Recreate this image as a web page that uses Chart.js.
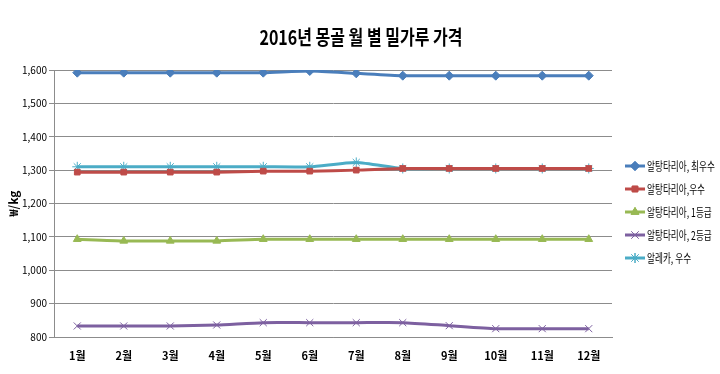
<!DOCTYPE html>
<html>
<head>
<meta charset="utf-8">
<script src="https://cdn.jsdelivr.net/npm/chart.js@4/dist/chart.umd.min.js"></script>
<style>
  html, body { margin: 0; padding: 0; background: #fff; }
  #wrap { width: 720px; height: 374px; }
</style>
</head>
<body>
<div id="wrap"><canvas id="flourChart" width="720" height="374"></canvas></div>
<script>
// Monthly flour prices, Mongolia 2016 (₩/kg)
const months = ['1월', '2월', '3월', '4월', '5월', '6월', '7월', '8월', '9월', '10월', '11월', '12월'];
const altanBest = [1592, 1592, 1592, 1592, 1592, 1597, 1590, 1583, 1583, 1583, 1583, 1583];
const altanGood = [1294, 1294, 1294, 1294, 1297, 1297, 1300, 1305, 1305, 1305, 1305, 1305];
const altanFirst = [1093, 1088, 1088, 1088, 1093, 1093, 1093, 1093, 1093, 1093, 1093, 1093];
const altanSecond = [833, 833, 833, 836, 843, 843, 843, 843, 834, 825, 825, 825];
const alekaGood = [1310, 1310, 1310, 1310, 1310, 1310, 1323, 1305, 1305, 1305, 1305, 1305];
const yTicks = { min: 800, max: 1600, step: 100 };

const font = '"Noto Sans CJK KR", "DejaVu Sans", sans-serif';

function series(label, data, color, pointStyle, radius) {
  return {
    label: label,
    data: data,
    borderColor: color,
    backgroundColor: color,
    borderWidth: 3,
    pointStyle: pointStyle,
    pointRadius: radius,
    pointBorderWidth: 1,
    pointHoverRadius: radius,
    tension: 0.2,
  };
}

// Title and legend are drawn by hand so they look like the Excel original
const decorations = {
  id: 'decorations',
  afterDraw(chart) {
    const ctx = chart.ctx;
    // title, slightly condensed
    ctx.save();
    ctx.translate(361, 37);
    ctx.scale(0.8, 1);
    ctx.font = 'bold 20px ' + font;
    ctx.fillStyle = '#000';
    ctx.textAlign = 'center';
    ctx.textBaseline = 'middle';
    ctx.fillText('2016년 몽골 월 별 밀가루 가격', 0, 0);
    ctx.restore();

    // legend on the right
    const x0 = chart.chartArea.right + 13;
    let y = 166;
    chart.data.datasets.forEach((ds) => {
      const hollow = ds.pointStyle === 'crossRot' || ds.pointStyle === 'star';
      ctx.save();
      ctx.strokeStyle = ds.borderColor;
      ctx.lineWidth = 3;
      ctx.beginPath();
      ctx.moveTo(x0, y);
      ctx.lineTo(x0 + 20, y);
      ctx.stroke();
      ctx.lineWidth = 1;
      ctx.fillStyle = ds.borderColor;
      Chart.helpers.drawPoint(ctx, {
        pointStyle: ds.pointStyle,
        radius: ds.pointRadius,
        borderWidth: 1,
        rotation: 0,
      }, x0 + 10, y);
      if (!hollow) ctx.fill();
      ctx.stroke();
      ctx.restore();

      ctx.save();
      ctx.translate(x0 + 22, y);
      ctx.scale(0.72, 1);
      ctx.font = '12px ' + font;
      ctx.fillStyle = '#000';
      ctx.textBaseline = 'middle';
      ctx.fillText(ds.label, 0, 0);
      ctx.restore();
      y += 23;
    });
  }
};

const ctx = document.getElementById('flourChart').getContext('2d');
new Chart(ctx, {
  type: 'line',
  data: {
    labels: months,
    datasets: [
      series('알탕타리아, 최우수', altanBest, '#4a7ebb', 'rectRot', 4.5),
      series('알탕타리아,우수', altanGood, '#be4b48', 'rect', 4),
      series('알탕타리아, 1등급', altanFirst, '#98b954', 'triangle', 4.5),
      series('알탕타리아, 2등급', altanSecond, '#7d60a0', 'crossRot', 5),
      series('알레카, 우수', alekaGood, '#4bacc6', 'star', 5),
    ],
  },
  options: {
    responsive: false,
    animation: false,
    layout: { padding: { left: 6, right: 108, top: 70, bottom: 0 } },
    plugins: {
      legend: { display: false },
      title: { display: false },
      tooltip: { enabled: false },
    },
    scales: {
      x: {
        offset: true,
        grid: { display: false, drawTicks: false },
        border: { display: true, color: '#8c8c8c', width: 1 },
        ticks: {
          padding: 12,
          maxRotation: 0,
          color: '#000',
          font: { family: font, size: 11, weight: 'bold' },
        },
        afterFit(scale) { scale.height = 37; },
      },
      y: {
        min: yTicks.min,
        max: yTicks.max,
        ticks: {
          stepSize: yTicks.step,
          padding: 2,
          color: '#000',
          font: { family: font, size: 10 },
        },
        grid: { color: '#8c8c8c', lineWidth: 1, tickLength: 5 },
        border: { display: true, color: '#8c8c8c' },
        title: {
          display: true,
          text: '₩/kg',
          color: '#000',
          padding: 0,
          font: { family: font, size: 12, weight: 'bold' },
        },
        afterFit(scale) { scale.width = 48; },
      },
    },
  },
  plugins: [decorations],
});
</script>
</body>
</html>
